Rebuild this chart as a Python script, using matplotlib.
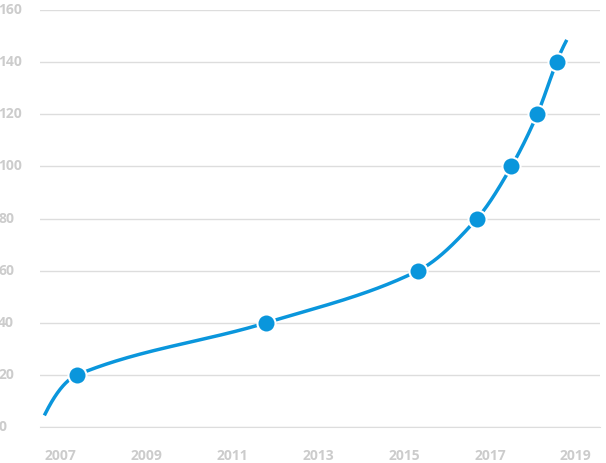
import numpy as np
import matplotlib
matplotlib.use("Agg")
import matplotlib.pyplot as plt

marker_x = [2007.4, 2011.8, 2015.33, 2016.7, 2017.5, 2018.1, 2018.55]
marker_y = [20, 40, 60, 80, 100, 120, 140]
curve_x = [2006.65] + marker_x + [2018.77]
curve_y = [5] + marker_y + [148]
xticks = [2007, 2009, 2011, 2013, 2015, 2017, 2019]
yticks = [0, 20, 40, 60, 80, 100, 120, 140, 160]

def hermite(xs, ys, n=80):
    x = np.asarray(xs, float); y = np.asarray(ys, float)
    m = np.zeros_like(x)
    m[1:-1] = (y[2:] - y[:-2]) / (x[2:] - x[:-2])
    m[0] = 2 * (y[1] - y[0]) / (x[1] - x[0]) - m[1]
    m[-1] = 2 * (y[-1] - y[-2]) / (x[-1] - x[-2]) - m[-2]
    X, Y = [], []
    for i in range(len(x) - 1):
        h = x[i+1] - x[i]
        t = np.linspace(0, 1, n)
        h00 = 2*t**3 - 3*t**2 + 1; h10 = t**3 - 2*t**2 + t
        h01 = -2*t**3 + 3*t**2; h11 = t**3 - t**2
        X.append(x[i] + t*h)
        Y.append(h00*y[i] + h10*h*m[i] + h01*y[i+1] + h11*h*m[i+1])
    return np.concatenate(X), np.concatenate(Y)

fig = plt.figure(figsize=(6.06, 4.63), dpi=100)
ax = fig.add_axes([0.066, 0.078, 0.924, 0.9])
cx, cy = hermite(curve_x, curve_y)
color = "#0a96dc"
ax.plot(cx, cy, color=color, lw=2.5, zorder=3)
ax.scatter(marker_x, marker_y, s=170, color=color, edgecolor="white", linewidth=1.5, zorder=4)
ax.set_xlim(2006.53, 2019.56)
ax.set_ylim(0, 160)
ax.set_yticks(yticks)
ax.set_xticks(xticks)
ax.grid(axis="y", color="#dddddd", lw=1)
ax.set_axisbelow(True)
for s in ax.spines.values():
    s.set_visible(False)
ax.spines["bottom"].set_visible(True)
ax.spines["bottom"].set_color("#dddddd")
ax.tick_params(length=0, labelcolor="#cccccc", labelsize=10)
ax.tick_params(axis="x", pad=16)
ax.tick_params(axis="y", pad=12)
for lab in ax.get_xticklabels() + ax.get_yticklabels():
    lab.set_fontweight("bold")
    lab.set_fontfamily("Open Sans")
for lab in ax.get_yticklabels():
    lab.set_horizontalalignment("left")
    lab.set_verticalalignment("center")
    lab.set_x(-0.045)
fig.savefig("out.png", dpi=100)
